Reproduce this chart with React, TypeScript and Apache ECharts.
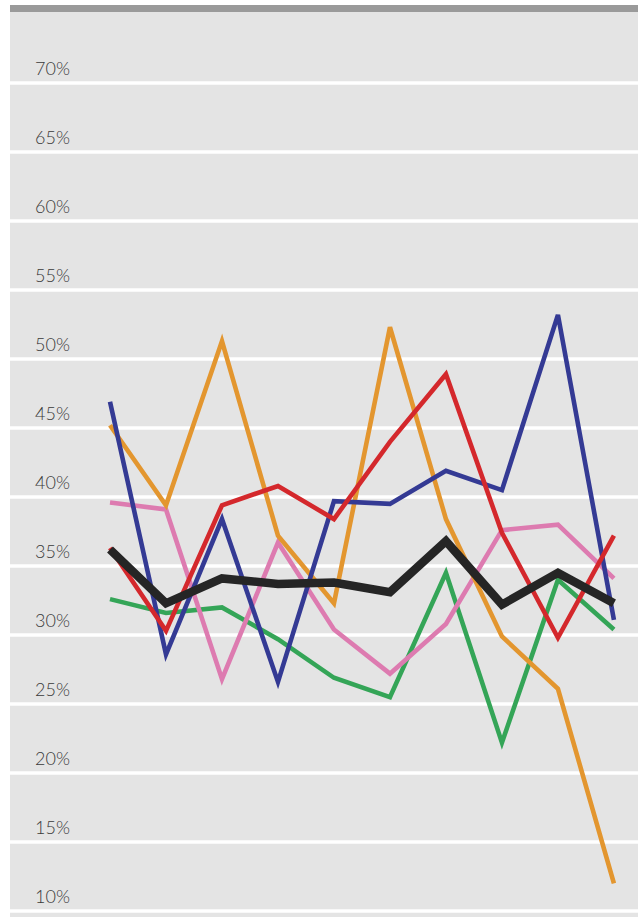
import React, { useEffect, useRef } from "react";
import * as echarts from "echarts";

const categories = ["1", "2", "3", "4", "5", "6", "7", "8", "9", "10"];
const yTicks = [10, 15, 20, 25, 30, 35, 40, 45, 50, 55, 60, 65, 70, 75];

const greenValues = [32.6, 31.6, 32.0, 29.7, 26.9, 25.5, 34.5, 22.2, 34.0, 30.4];
const pinkValues = [39.6, 39.1, 26.8, 36.7, 30.4, 27.2, 30.8, 37.6, 38.0, 34.1];
const orangeValues = [45.2, 39.4, 51.3, 37.2, 32.3, 52.3, 38.4, 29.9, 26.1, 12.0];
const blueValues = [46.9, 28.6, 38.4, 26.6, 39.7, 39.5, 41.9, 40.5, 53.2, 31.1];
const redValues = [36.3, 30.3, 39.4, 40.8, 38.4, 44.0, 48.9, 37.4, 29.8, 37.2];
const blackValues = [36.2, 32.3, 34.1, 33.7, 33.8, 33.1, 36.8, 32.2, 34.5, 32.3];

const seriesDefs = [
  { name: "green", values: greenValues, color: "#34a557", width: 4.6 },
  { name: "pink", values: pinkValues, color: "#dd7bb0", width: 4.6 },
  { name: "orange", values: orangeValues, color: "#e3962f", width: 4.6 },
  { name: "blue", values: blueValues, color: "#343a94", width: 4.6 },
  { name: "red", values: redValues, color: "#d4282c", width: 4.6 },
  { name: "black", values: blackValues, color: "#252525", width: 8.5 },
];

export default function App() {
  const ref = useRef<HTMLDivElement>(null);
  useEffect(() => {
    const chart = echarts.init(ref.current!, null, { renderer: "svg" });
    const gridColors = yTicks.map((t) => (t === 75 ? "rgba(0,0,0,0)" : "#ffffff"));
    chart.setOption({
      animation: false,
      graphic: [
        { type: "rect", z: -10, silent: true, shape: { x: 10, y: 12, width: 628, height: 905 }, style: { fill: "#e4e4e4" } },
        { type: "rect", z: 10, silent: true, shape: { x: 10, y: 5, width: 628, height: 7 }, style: { fill: "#9a9a9a" } },
      ],
      grid: { left: 10, right: 0, top: 14, bottom: 6 },
      xAxis: {
        type: "value",
        min: -1.786,
        max: 9.43,
        show: false,
        splitLine: { show: false },
      },
      yAxis: {
        type: "value",
        min: 10,
        max: 75,
        interval: 5,
        axisLine: { show: false },
        axisTick: { show: false },
        splitLine: { show: true, lineStyle: { color: gridColors, width: 3.5 } },
        axisLabel: {
          inside: true,
          margin: 25,
          verticalAlign: "bottom",
          padding: [0, 0, 6, 0],
          fontFamily: "Lato",
          fontWeight: 300,
          fontSize: 18,
          color: "#3a3a3a",
          formatter: (v: number) => (v === 75 ? "" : v + "%"),
        },
      },
      series: seriesDefs.map((s) => ({
        name: s.name,
        type: "line",
        showSymbol: false,
        symbol: "none",
        data: s.values.map((v, i) => [categories.indexOf(categories[i]), v]),
        lineStyle: { color: s.color, width: s.width, cap: "butt", join: "miter" },
        itemStyle: { color: s.color },
      })),
    });
    return () => chart.dispose();
  }, []);
  return <div ref={ref} style={{ width: 638, height: 917, position: "absolute", left: 0, top: 0 }} />;
}
